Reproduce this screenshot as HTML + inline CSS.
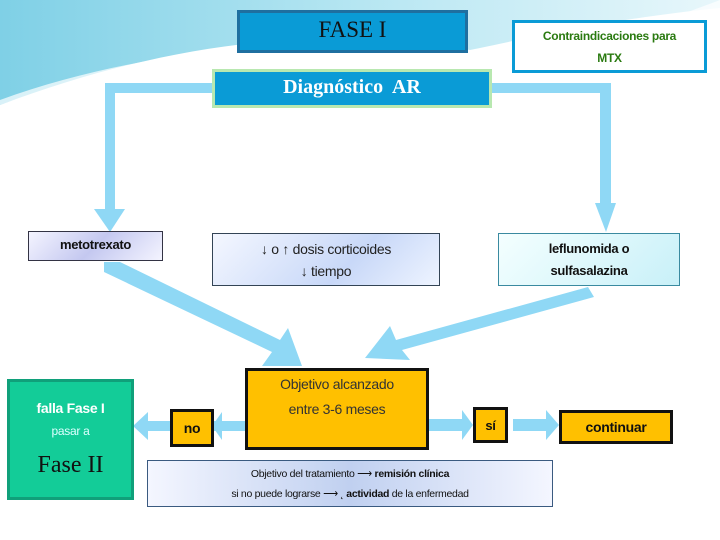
<!DOCTYPE html>
<html><head><meta charset="utf-8"><style>
body{margin:0;width:720px;height:540px;overflow:hidden;background:#fff;font-family:"Liberation Sans",sans-serif;position:relative}
.b{position:absolute;box-sizing:border-box;display:flex;align-items:center;justify-content:center;text-align:center}
.n{font-family:"Liberation Sans",sans-serif;letter-spacing:-0.3px}
</style></head><body>
<svg width="720" height="540" style="position:absolute;left:0;top:0">
<defs><linearGradient id="g" x1="0" y1="0" x2="1" y2="0"><stop offset="0" stop-color="#7fd0e6"/><stop offset="0.5" stop-color="#b6e6f2"/><stop offset="1" stop-color="#e8f7fb"/></linearGradient></defs>
<path d="M0 0 H720 V8 C600 20 520 40 470 50 C350 30 200 30 0 105 Z" fill="url(#g)"/>
<path d="M0 105 C150 50 330 40 470 55 C560 70 640 40 720 15 V0 C640 30 560 60 470 50 C330 35 150 45 0 100Z" fill="#fff" opacity="0.7"/>
<g fill="#8fd8f5">
<rect x="105" y="83" width="107" height="10"/><rect x="105" y="83" width="10" height="130"/>
<polygon points="94,209 125,209 110,232"/>
<rect x="491" y="83" width="120" height="10"/><rect x="600" y="83" width="11" height="122"/>
<polygon points="595,203 616,203 606,232"/>
<polygon points="104,262 120,262 280,340 288,328 302,366 262,366 272,352 104,272"/>
<polygon points="588,287 594,297 402,350 410,360 365,358 390,326 396,340"/>
<rect x="213" y="421" width="35" height="10"/><polygon points="222,412 222,440 212,426"/>
<rect x="140" y="421" width="32" height="10"/><polygon points="148,412 148,440 133,426"/>
<rect x="428" y="419" width="40" height="12"/><polygon points="462,410 462,440 473,425"/>
<rect x="513" y="419" width="38" height="12"/><polygon points="546,410 546,440 559,425"/>
</g>
</svg>
<div class="b" style="left:237px;top:10px;width:231px;height:43px;background:#0a9bd6;border:3px solid #1f6fa0;font-family:'Liberation Serif',serif;font-size:23px;color:#111;align-items:flex-start;padding-top:4px"><div>FASE I</div></div>
<div class="b n" style="left:512px;top:20px;width:195px;height:53px;background:#fff;border:3px solid #0a9bd6;color:#2a7a10;font-weight:bold;font-size:12px;line-height:22px"><div>Contraindicaciones para<br>MTX</div></div>
<div class="b" style="left:212px;top:69px;width:280px;height:39px;background:#0a9bd6;border:3px solid #b8e8b0;font-family:'Liberation Serif',serif;font-weight:bold;font-size:20px;color:#fff;align-items:flex-start;padding-top:4px"><div>Diagnóstico&nbsp; AR</div></div>
<div class="b n" style="left:28px;top:231px;width:135px;height:30px;background:linear-gradient(135deg,#f4f4ff,#c4c8f0 50%,#f4f4ff);border:1px solid #334;font-size:13px;font-weight:bold;color:#111;align-items:flex-start;padding-top:5px"><div>metotrexato</div></div>
<div class="b n" style="left:212px;top:233px;width:228px;height:53px;background:linear-gradient(135deg,#f4f7ff,#c8d8f8 60%,#eef4ff);border:1px solid #345;font-size:14px;line-height:22px;color:#222"><div>↓ o ↑ dosis corticoides<br>↓ tiempo</div></div>
<div class="b n" style="left:498px;top:233px;width:182px;height:53px;background:linear-gradient(135deg,#f4ffff,#c8f0f8);border:1px solid #3a8aa0;font-size:13px;font-weight:bold;line-height:22px;color:#111"><div>leflunomida o<br>sulfasalazina</div></div>
<div class="b n" style="left:245px;top:368px;width:184px;height:82px;background:#ffc000;border:3px solid #111;font-size:14px;line-height:25px;color:#333;align-items:flex-start;padding-top:1px"><div>Objetivo alcanzado<br>entre 3-6 meses</div></div>
<div class="b" style="left:7px;top:379px;width:127px;height:121px;background:#13cc98;border:3px solid #10a07a;color:#fff"><div><div class="n" style="font-size:14px;font-weight:bold">falla Fase I</div><div class="n" style="font-size:12px;color:#dff;margin-top:8px">pasar a</div><div style="font-family:'Liberation Serif',serif;font-size:24px;color:#111;margin-top:14px">Fase II</div></div></div>
<div class="b n" style="left:170px;top:409px;width:44px;height:38px;background:#ffc000;border:3px solid #111;font-size:14px;font-weight:bold;color:#111"><div>no</div></div>
<div class="b n" style="left:473px;top:407px;width:35px;height:36px;background:#ffc000;border:3px solid #111;font-size:13px;font-weight:bold;color:#111"><div>sí</div></div>
<div class="b n" style="left:559px;top:410px;width:114px;height:34px;background:#ffc000;border:3px solid #111;font-size:14px;font-weight:bold;color:#111"><div>continuar</div></div>
<div class="b n" style="left:147px;top:460px;width:406px;height:47px;background:linear-gradient(90deg,#f4f6ff,#c0d0f0 50%,#f4f6ff);border:1px solid #3a5a80;font-size:10.5px;line-height:20px;color:#111;white-space:nowrap"><div>Objetivo del tratamiento ⟶ <b>remisión clínica</b><br>si no puede lograrse ⟶ ˛ <b>actividad</b> de la enfermedad</div></div>
</body></html>
